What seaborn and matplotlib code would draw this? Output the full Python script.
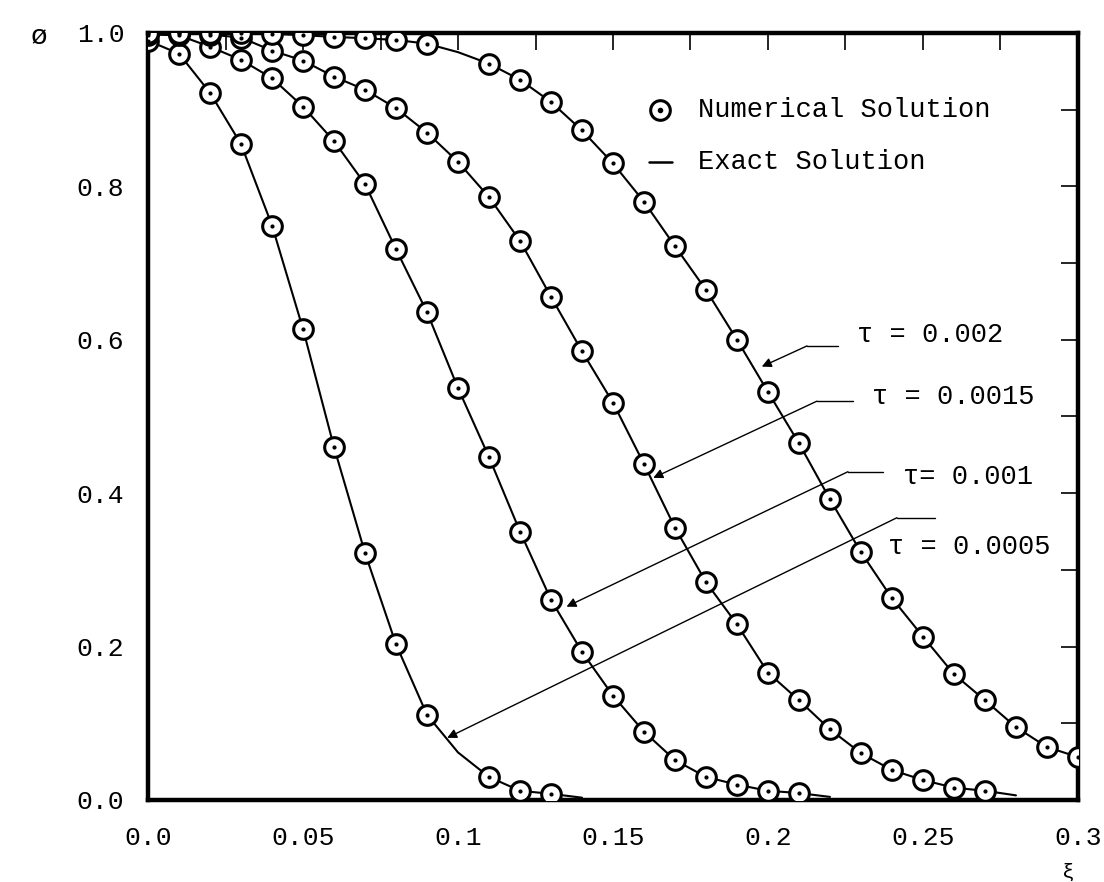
import numpy as np
import pandas as pd
import seaborn as sns
import matplotlib.pyplot as plt

# grid of xi values (step 0.01)
xi_grid = np.round(np.arange(0, 0.305, 0.01), 2)

# phi, one list per tau (exact curve passes through the circles)
phi_0005 = [0.990, 0.973, 0.922, 0.855, 0.749, 0.614, 0.460, 0.322, 0.203, 0.111,
            0.062, 0.030, 0.012, 0.008, 0.003]
phi_001 = [0.998, 0.997, 0.982, 0.965, 0.941, 0.904, 0.859, 0.803, 0.718, 0.636,
           0.537, 0.447, 0.350, 0.261, 0.193, 0.136, 0.089, 0.052, 0.030, 0.020,
           0.012, 0.009, 0.004]
phi_0015 = [1.000, 1.000, 0.998, 0.994, 0.977, 0.964, 0.943, 0.926, 0.902, 0.870,
            0.832, 0.786, 0.729, 0.656, 0.585, 0.518, 0.438, 0.355, 0.284, 0.229,
            0.166, 0.130, 0.092, 0.061, 0.039, 0.026, 0.016, 0.012, 0.006]
phi_002 = [1.000, 1.000, 1.000, 1.000, 0.999, 0.997, 0.995, 0.993, 0.991, 0.986,
           0.975, 0.960, 0.939, 0.910, 0.873, 0.830, 0.780, 0.722, 0.665, 0.600,
           0.532, 0.465, 0.392, 0.323, 0.263, 0.213, 0.164, 0.130, 0.095, 0.069,
           0.056]

# xi values where the scan shows the exact curve but no circle
no_circle = {
    "0.0005": [0.10, 0.14],
    "0.001": [0.22],
    "0.0015": [0.28],
    "0.002": [0.10],
}

tau_labels = ["τ = 0.002", "τ = 0.0015", "τ= 0.001", "τ = 0.0005"]

frames = []
for tau, phi in [("0.0005", phi_0005), ("0.001", phi_001),
                 ("0.0015", phi_0015), ("0.002", phi_002)]:
    d = pd.DataFrame({"xi": xi_grid[:len(phi)], "phi": phi, "tau": tau})
    d["circle"] = ~d["xi"].round(2).isin(no_circle[tau])
    frames.append(d)
df = pd.concat(frames, ignore_index=True)

sns.set_style("white")
plt.rcParams["font.family"] = ["Liberation Mono", "DejaVu Sans"]
plt.rcParams["font.size"] = 19
plt.rcParams["text.color"] = "black"

fig = plt.figure(figsize=(11.04, 8.82), dpi=100)
ax = fig.add_axes([0.1341, 0.0930, 0.8423, 0.8696])

sns.lineplot(data=df, x="xi", y="phi", units="tau", estimator=None,
             color="black", linewidth=1.5, ax=ax, zorder=2)
pts = df[df["circle"]]
sns.scatterplot(data=pts, x="xi", y="phi", marker="o", s=200, color="white",
                edgecolor="black", linewidth=2.2, ax=ax, zorder=3)
sns.scatterplot(data=pts, x="xi", y="phi", marker="o", s=9, color="black",
                edgecolor="black", linewidth=0, ax=ax, zorder=4)

ax.set_xlim(0, 0.3)
ax.set_ylim(0, 1.0)
ax.set_xlabel("")
ax.set_ylabel("")

xt = np.round(np.arange(0, 0.301, 0.025), 3)
ax.set_xticks(xt)
ax.set_xticklabels(["0.0", "", "0.05", "", "0.1", "", "0.15", "", "0.2", "",
                    "0.25", "", "0.3"])
yt = np.round(np.arange(0, 1.01, 0.1), 1)
ax.set_yticks(yt)
ax.set_yticklabels(["0.0", "", "0.2", "", "0.4", "", "0.6", "", "0.8", "", "1.0"])
ax.tick_params(direction="in", length=12, width=1.2, top=True, right=True,
               colors="black", labelcolor="black", labelsize=19)
ax.tick_params(axis="x", pad=19)
ax.tick_params(axis="y", pad=17)
for sp in ax.spines.values():
    sp.set_visible(True)
    sp.set_linewidth(3.2)
    sp.set_color("black")

# legend drawn by hand, like the original
ax.scatter([0.551], [0.90], s=200, facecolor="white", edgecolor="black",
           linewidth=2.2, transform=ax.transAxes, zorder=5)
ax.scatter([0.551], [0.90], s=9, color="black", transform=ax.transAxes, zorder=6)
ax.text(0.591, 0.90, "Numerical Solution", transform=ax.transAxes,
        va="center", ha="left", fontsize=19.5, color="black")
ax.plot([0.539, 0.563], [0.832, 0.832], color="black", linewidth=1.8,
        transform=ax.transAxes)
ax.text(0.591, 0.832, "Exact Solution", transform=ax.transAxes,
        va="center", ha="left", fontsize=19.5, color="black")

# tau labels with leader lines and arrows
label_xy = [(0.2287, 0.606), (0.2335, 0.525), (0.2435, 0.421), (0.2387, 0.330)]
leader = [((0.2126, 0.2226), 0.592), ((0.2158, 0.2274), 0.520),
          ((0.2258, 0.2371), 0.428), ((0.2416, 0.2539), 0.368)]
arrow_to = [(0.198, 0.565), (0.163, 0.420), (0.135, 0.252), (0.0965, 0.081)]
for lab, (tx, ty), ((x0, x1), ly), (axx, axy) in zip(tau_labels, label_xy, leader, arrow_to):
    ax.text(tx, ty, lab, va="center", ha="left", fontsize=19.5, color="black")
    ax.plot([x0, x1], [ly, ly], color="black", linewidth=1.0)
    ax.annotate("", xy=(axx, axy), xytext=(x0, ly),
                arrowprops=dict(arrowstyle="-|>", color="black", lw=1.0,
                                mutation_scale=14, shrinkA=0, shrinkB=0))

fig.text(39 / 1104, 1 - 37 / 882, "ø", ha="center", va="center", fontsize=20,
         color="black")
fig.text(1068 / 1104, 1 - 872 / 882, "ξ", ha="center", va="center", fontsize=15,
         color="black")

fig.savefig("out.png", dpi=100)
